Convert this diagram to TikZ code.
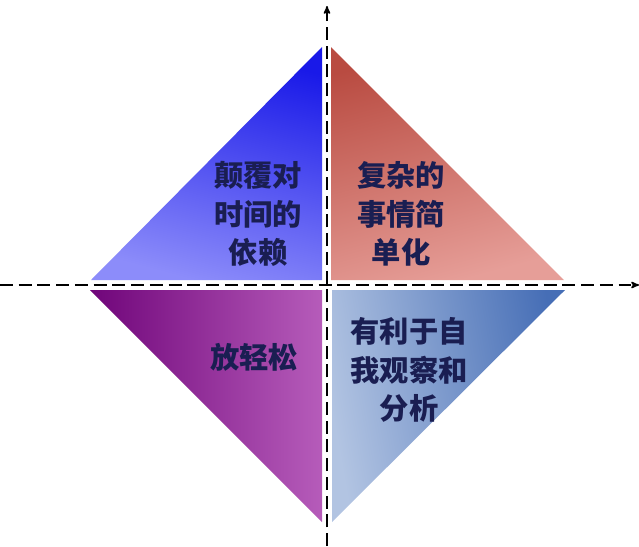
\documentclass[tikz,border=0pt]{standalone}
\usepackage{fontspec}
\newfontfamily\cjk{Noto Sans CJK SC}
\usetikzlibrary{arrows}

\definecolor{textnavy}{RGB}{26,30,82}
\definecolor{blueA}{RGB}{25,25,232}
\definecolor{blueB}{RGB}{140,140,250}
\definecolor{redA}{RGB}{185,75,65}
\definecolor{redB}{RGB}{230,158,152}
\definecolor{purpleA}{RGB}{112,5,122}
\definecolor{purpleB}{RGB}{182,92,186}
\definecolor{steelA}{RGB}{70,110,182}
\definecolor{steelB}{RGB}{178,196,226}

\begin{document}
\begin{tikzpicture}[x=0.03cm,y=-0.03cm,>=stealth',
  label node/.style={align=center,text=textnavy,inner sep=0pt,
    font=\cjk\bfseries\fontsize{25}{33}\selectfont},
  axis line/.style={->,line width=1.3pt,dash pattern=on 11pt off 5pt}]

  \useasboundingbox (0,0) rectangle (639,546);

  % the four quarters
  \shade[top color=blueA,bottom color=blueB,shading angle=-15]
    (322,47) -- (322,280) -- (91,280) -- cycle;
  \shade[top color=redA,bottom color=redB,shading angle=15]
    (331,47) -- (564,280) -- (331,280) -- cycle;
  \shade[left color=purpleA,right color=purpleB]
    (90,290) -- (322,290) -- (322,522) -- cycle;
  \shade[left color=steelB,right color=steelA,shading angle=100]
    (332,290) -- (565,290) -- (332,522) -- cycle;

  % axes
  \coordinate (xleft) at (0,285);
  \coordinate (xright) at (639,285);
  \coordinate (ybottom) at (327,546);
  \coordinate (ytop) at (327,6);
  \draw[axis line] (xleft) -- (xright);
  \draw[axis line] (ybottom) -- (ytop);

  \node[label node] (tl) at (258,214) {颠覆对\\时间的\\依赖};
  \node[label node] (tr) at (401,214) {复杂的\\事情简\\单化};
  \node[label node] (bl) at (254,357) {放轻松};
  \node[label node] (br) at (409,370) {有利于自\\我观察和\\分析};
\end{tikzpicture}
\end{document}
